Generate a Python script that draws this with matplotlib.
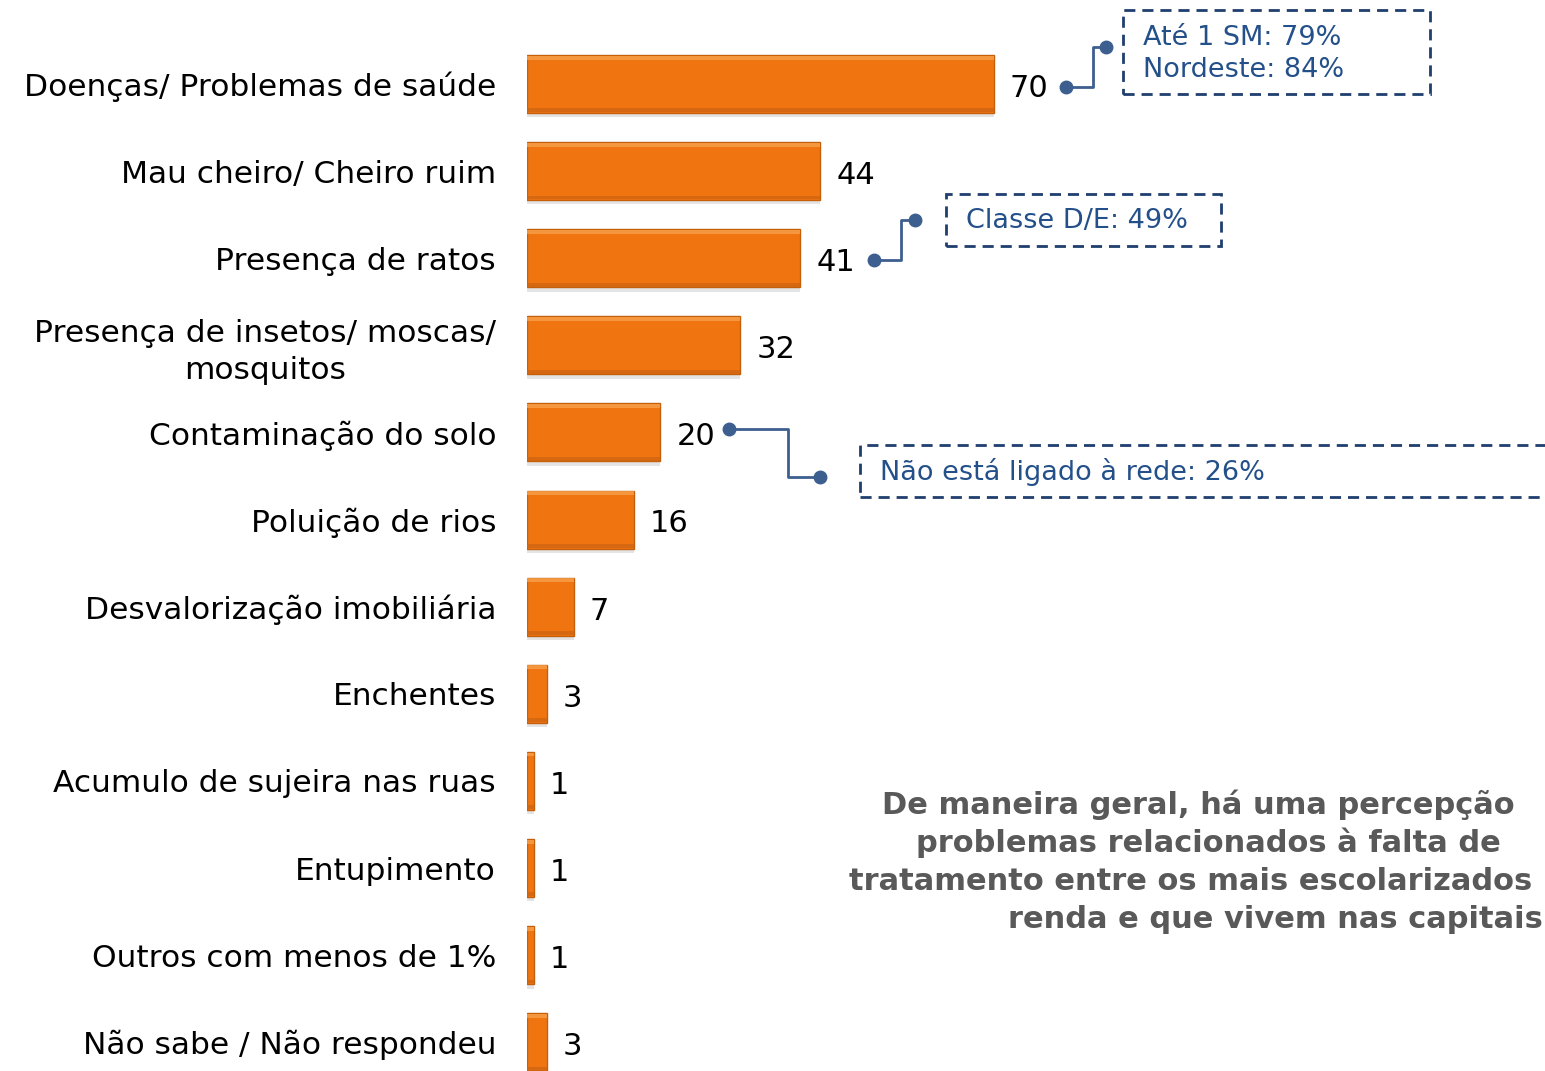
import matplotlib.pyplot as plt
from matplotlib.lines import Line2D
from matplotlib.patches import Rectangle

# data
categories = ['Doenças/ Problemas de saúde', 'Mau cheiro/ Cheiro ruim', 'Presença de ratos',
              'Presença de insetos/ moscas/\nmosquitos', 'Contaminação do solo', 'Poluição de rios',
              'Desvalorização imobiliária', 'Enchentes', 'Acumulo de sujeira nas ruas',
              'Entupimento', 'Outros com menos de 1%', 'Não sabe / Não respondeu']
values = [70, 44, 41, 32, 20, 16, 7, 3, 1, 1, 1, 3]

callout_texts = ['Até 1 SM: 79%\nNordeste: 84%', 'Classe D/E: 49%', 'Não está ligado à rede: 26%']
note_lines = ['De maneira geral, há uma percepção',
              'problemas relacionados à falta de',
              'tratamento entre os mais escolarizados',
              'renda e que vivem nas capitais']

W, H = 1545, 1071
plt.rcParams['font.family'] = ['DejaVu Sans']

fig = plt.figure(figsize=(W / 100, H / 100), dpi=100)
ax = fig.add_axes([527 / W, 0, 1 - 527 / W, 1])
ypos = list(range(len(values)))
bh = 0.666

# shadow, bar, bevel highlight / dark bottom
ax.barh([y + 0.05 for y in ypos], values, height=bh, color='#a8a8a8', alpha=0.3, zorder=1)
ax.barh(ypos, values, height=bh, color='#f07511', edgecolor='#c45f0c', linewidth=1, zorder=2)
ax.barh([y - bh / 2 + 0.03 for y in ypos], values, height=0.045, color='#f7a04a', alpha=0.8, zorder=3)
ax.barh([y + bh / 2 - 0.03 for y in ypos], values, height=0.045, color='#cf6510', alpha=0.8, zorder=3)

for y, v in zip(ypos, values):
    ax.text(v + 2.4, y + 0.05, str(v), va='center', ha='left', fontsize=22, color='black')

ax.set_xlim(0, (W - 527) / 6.67)
ax.set_ylim(11.33, -0.964)
ax.set_yticks(ypos)
ax.set_yticklabels(categories, fontsize=22.5)
for lab in ax.get_yticklabels():
    lab.set_multialignment('center')
    lab.set_linespacing(1.32)
ax.tick_params(axis='y', length=0, pad=22.3)
ax.set_xticks([])
for s in ax.spines.values():
    s.set_visible(False)


def px(x, y):
    return x / W, 1 - y / H


box_col = '#1f3f6e'
txt_col = '#24508a'
line_col = '#3d5f8f'

# callout connectors (pixel coords)
connectors = [[(1066, 87), (1093, 87), (1093, 47), (1106, 47)],
              [(874, 260), (901, 260), (901, 220), (915, 220)],
              [(729, 429), (788, 429), (788, 477), (820, 477)]]
boxes = [(1123, 10, 1430, 94), (946, 194, 1221, 246), (860, 445, 1600, 497)]
text_pos = [(1143, 54), (966, 221), (880, 472)]

for pts, (x0, y0, x1, y1), (tx, ty), t in zip(connectors, boxes, text_pos, callout_texts):
    xs = [px(*p)[0] for p in pts]
    ys = [px(*p)[1] for p in pts]
    fig.add_artist(Line2D(xs, ys, transform=fig.transFigure, color=line_col, lw=2,
                          marker='o', markersize=9, markevery=[0, len(pts) - 1]))
    bx, by = px(x0, y1)
    fig.add_artist(Rectangle((bx, by), (x1 - x0) / W, (y1 - y0) / H, transform=fig.transFigure,
                             fill=False, edgecolor=box_col, lw=2, ls=(0, (4, 2.5))))
    fig.text(*px(tx, ty), t, ha='left', va='center', fontsize=19.5, color=txt_col,
             linespacing=1.32)

note_x = [882, 916, 849, 1008]
note_y = [805, 843, 882, 920]
for x, y, t in zip(note_x, note_y, note_lines):
    fig.text(*px(x, y), t, ha='left', va='center', fontsize=22, fontweight='bold', color='#595959')

fig.savefig('out.png', dpi=100)
